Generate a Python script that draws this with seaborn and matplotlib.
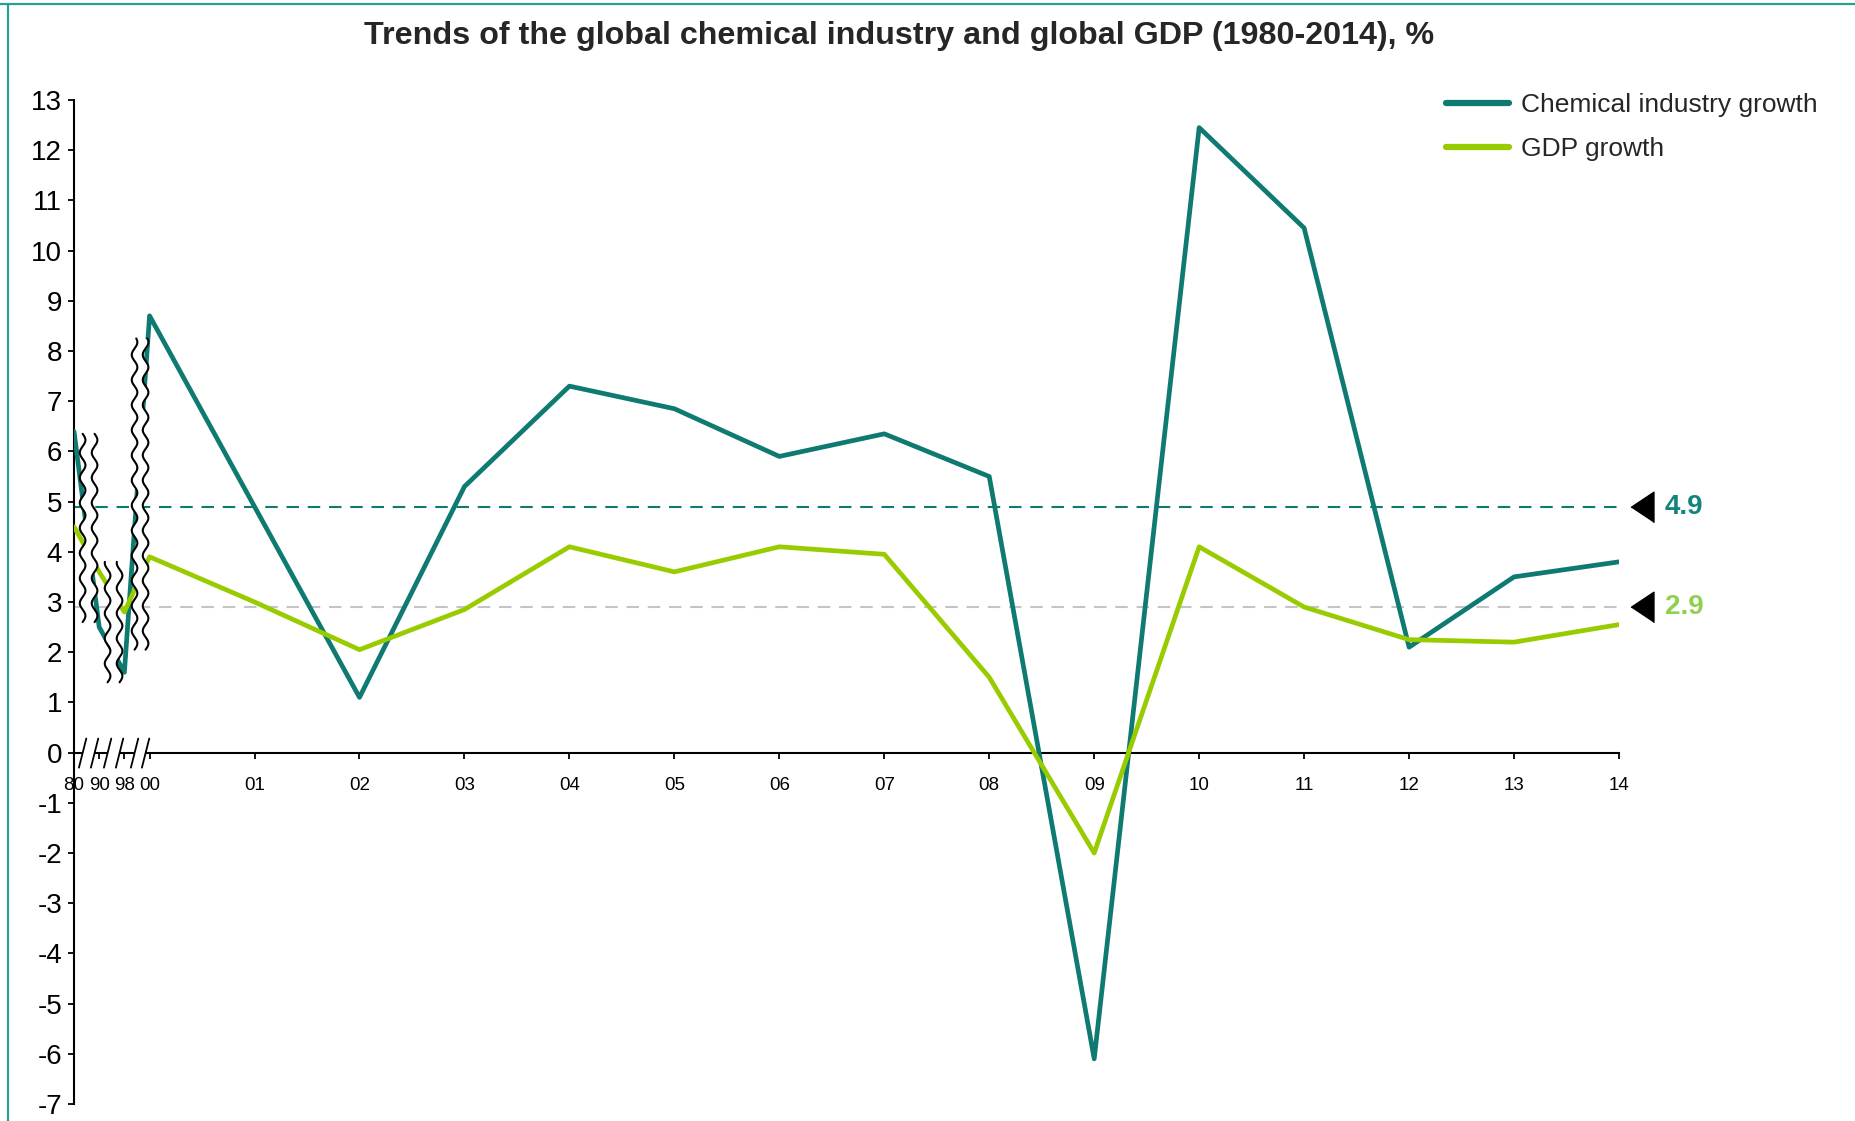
import numpy as np
import pandas as pd
import matplotlib
matplotlib.use("Agg")
import matplotlib.pyplot as plt
import seaborn as sns
from matplotlib.lines import Line2D
from matplotlib.transforms import ScaledTranslation

# ---- data -------------------------------------------------------------
years = ["80", "90", "98", "00", "01", "02", "03", "04", "05", "06", "07",
         "08", "09", "10", "11", "12", "13", "14"]
chem_growth = [6.4, 2.5, 1.6, 8.7, 4.9, 1.1, 5.3, 7.3, 6.85, 5.9, 6.35,
               5.5, -6.1, 12.45, 10.45, 2.1, 3.5, 3.8]
gdp_growth = [4.5, 3.6, 2.8, 3.9, 3.0, 2.05, 2.85, 4.1, 3.6, 4.1, 3.95,
              1.5, -2.0, 4.1, 2.9, 2.25, 2.2, 2.55]
avg_chem = 4.9
avg_gdp = 2.9
series_names = ["Chemical industry growth", "GDP growth"]

# ---- styling ----------------------------------------------------------
TEAL = "#0f7a71"
GREEN = "#99cc00"
TEAL_TXT = "#13847c"
GREEN_TXT = "#8fd14f"

sns.set_style("white")
plt.rcParams["font.family"] = ["Liberation Sans", "DejaVu Sans"]
plt.rcParams["axes.unicode_minus"] = False

# early years (1980, 1990, 1998) are squeezed in front of 2000
n_early = 3
early_step = 0.24
positions = [-(n_early - i) * early_step for i in range(n_early)] + \
            list(range(len(years) - n_early))

df = pd.DataFrame({
    "pos": positions * 2,
    "value": chem_growth + gdp_growth,
    "series": [series_names[0]] * len(years) + [series_names[1]] * len(years),
})

W, H, DPI = 1855, 1121, 100
fig = plt.figure(figsize=(W / DPI, H / DPI), dpi=DPI)
ax = fig.add_axes([74 / W, 1 - 1104 / H, (1619 - 74) / W, (1104 - 100) / H])

sns.lineplot(data=df, x="pos", y="value", hue="series",
             palette={series_names[0]: TEAL, series_names[1]: GREEN},
             linewidth=3.4, ax=ax, legend=True, zorder=3)

# average reference lines
ax.axhline(avg_chem, color=TEAL, lw=1.5, ls=(0, (6, 4.2)), zorder=2)
ax.axhline(avg_gdp, color="#c4c4c4", lw=1.5, ls=(0, (6, 4.2)), zorder=2)

ax.set_xlim(positions[0], positions[-1])
ax.set_ylim(-7, 13)
ax.set_yticks(range(-7, 14))
ax.set_xticks(positions)
ax.set_xticklabels(years)
ax.set_xlabel("")
ax.set_ylabel("")

for s in ("top", "right"):
    ax.spines[s].set_visible(False)
ax.spines["bottom"].set_position(("data", 0))
for s in ("left", "bottom"):
    ax.spines[s].set_color("black")
    ax.spines[s].set_linewidth(1.5)
ax.tick_params(axis="y", direction="out", length=4.5, width=1.3, pad=4,
               labelsize=20, left=True, colors="black")
ax.tick_params(axis="x", direction="out", length=4.5, width=1.3, pad=13,
               labelsize=13.5, bottom=True, colors="black")

# ---- scale-break marks between the compressed early years ------------
breaks = [(-0.638, -0.524, 2.6, 6.35),
          (-0.400, -0.286, 1.4, 3.8),
          (-0.143, -0.038, 2.05, 8.25)]
amp, period = 0.027, 0.5
for x1, x2, ylo, yhi in breaks:
    yy = np.linspace(ylo, yhi, 400)
    ww = amp * np.sin(2 * np.pi * (yy - ylo) / period)
    ax.fill_betweenx(yy, x1 + ww, x2 + ww, color="white", zorder=5, lw=0)
    ax.plot(x1 + ww, yy, color="black", lw=1.5, zorder=6)
    ax.plot(x2 + ww, yy, color="black", lw=1.5, zorder=6)
    # break on the horizontal axis
    ax.fill_between([x1, x2], -0.06, 0.06, color="white", zorder=5, lw=0,
                    clip_on=False)
    for xc in (x1, x2):
        ax.plot([xc - 0.035, xc + 0.035], [-0.3, 0.28], color="black",
                lw=1.3, zorder=6, clip_on=False)

# ---- average markers at the right edge -------------------------------
tri = [(-0.75, 0), (0.75, 1), (0.75, -1)]
shift = ScaledTranslation(23 / DPI, 0, fig.dpi_scale_trans)
for val, col in ((avg_chem, TEAL_TXT), (avg_gdp, GREEN_TXT)):
    ax.plot([positions[-1]], [val], marker=tri, ms=22, color="black",
            clip_on=False, transform=ax.transData + shift, zorder=6)
    ax.annotate(f"{val:.1f}", xy=(positions[-1], val), xytext=(33, 0),
                textcoords="offset points", ha="left", va="center",
                fontsize=20, fontweight="bold", color=col,
                annotation_clip=False)

# ---- legend ----------------------------------------------------------
sns.move_legend(ax, "upper left", bbox_to_anchor=(1446 / W, 1 - 93 / H),
                bbox_transform=fig.transFigure, frameon=False, title=None,
                fontsize=19, handlelength=2.4, handletextpad=0.45,
                labelspacing=0.75, borderpad=0, borderaxespad=0)
for h in ax.get_legend().get_lines():
    h.set_linewidth(4.5)

# ---- title and frame -------------------------------------------------
fig.text(899 / W, 1 - 36 / H,
         "Trends of the global chemical industry and global GDP (1980-2014), %",
         ha="center", va="center", fontsize=23.2, fontweight="bold")
fig.add_artist(Line2D([0, 1], [1 - 4 / H] * 2, transform=fig.transFigure,
                      color="#2a9d95", lw=1.6))
fig.add_artist(Line2D([8 / W] * 2, [0, 1 - 4 / H], transform=fig.transFigure,
                      color="#2a9d95", lw=1.6))

fig.savefig("out.png", dpi=DPI, facecolor="white")
